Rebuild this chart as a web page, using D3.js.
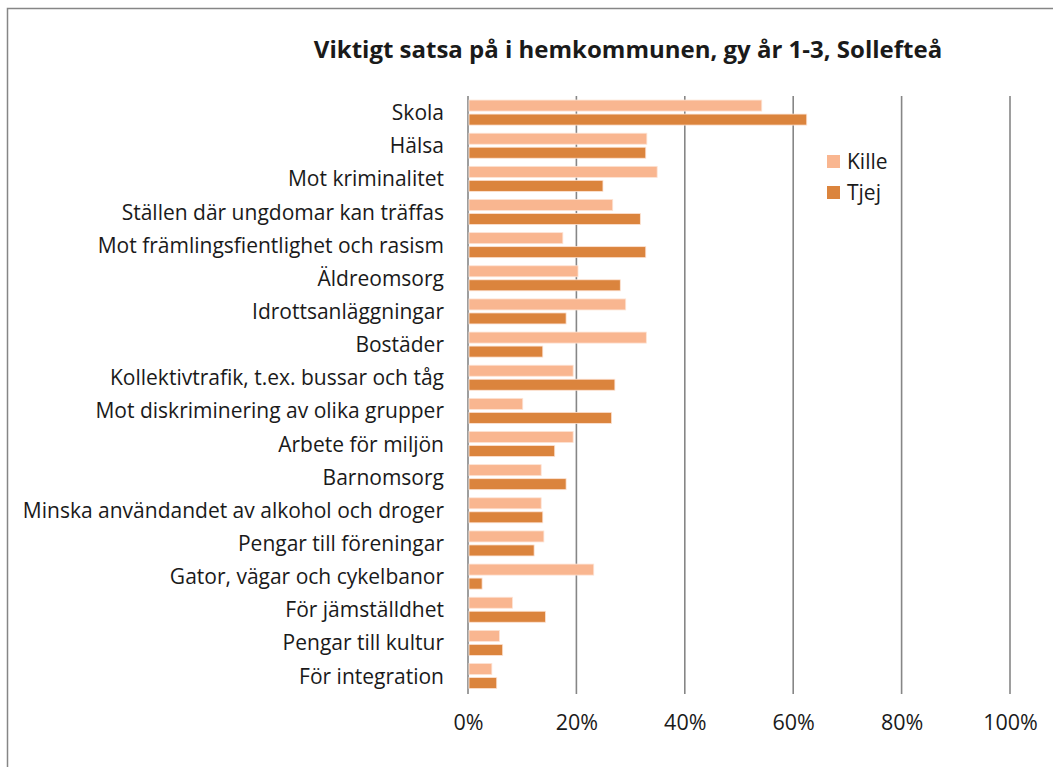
<!DOCTYPE html>
<html>
<head>
<meta charset="utf-8">
<script src="https://cdnjs.cloudflare.com/ajax/libs/d3/7.8.5/d3.min.js"></script>
<style>
  body { margin: 0; background: #fff; }
  svg text { font-family: "Open Sans", Lato, sans-serif; fill: #1a1a1a; }
</style>
</head>
<body>
<div class="chart"></div>
<script>
// categories, top to bottom
var categories = [
  "Skola",
  "Hälsa",
  "Mot kriminalitet",
  "Ställen där ungdomar kan träffas",
  "Mot främlingsfientlighet och rasism",
  "Äldreomsorg",
  "Idrottsanläggningar",
  "Bostäder",
  "Kollektivtrafik, t.ex. bussar och tåg",
  "Mot diskriminering av olika grupper",
  "Arbete för miljön",
  "Barnomsorg",
  "Minska användandet av alkohol och droger",
  "Pengar till föreningar",
  "Gator, vägar och cykelbanor",
  "För jämställdhet",
  "Pengar till kultur",
  "För integration"
];

var seriesNames = ["Kille", "Tjej"];

// share of answers (0-1)
var kille = [0.542, 0.330, 0.349, 0.267, 0.175, 0.203, 0.291, 0.329, 0.194, 0.101, 0.194, 0.135, 0.135, 0.140, 0.232, 0.082, 0.058, 0.044];
var tjej  = [0.625, 0.328, 0.249, 0.318, 0.328, 0.281, 0.181, 0.138, 0.271, 0.265, 0.160, 0.181, 0.138, 0.122, 0.026, 0.143, 0.064, 0.053];

var xTicks = [0, 0.2, 0.4, 0.6, 0.8, 1];

var colors = { "Kille": "#f9b690", "Tjej": "#db843d" };

var svgWidth = 1053;
var svgHeight = 767;

var svg = d3.select(".chart")
  .append("svg")
  .attr("width", svgWidth)
  .attr("height", svgHeight);

// chart area border (runs off the right and bottom edge)
svg.append("rect")
  .attr("x", 7.5)
  .attr("y", 8.5)
  .attr("width", 1100)
  .attr("height", 800)
  .attr("fill", "#fff")
  .attr("stroke", "#868686")
  .attr("stroke-width", 1.5);

// title
svg.append("text")
  .attr("x", 628)
  .attr("y", 58)
  .attr("text-anchor", "middle")
  .attr("font-size", "24px")
  .attr("font-weight", "bold")
  .text("Viktigt satsa på i hemkommunen, gy år 1-3, Sollefteå");

// scales
var xScale = d3.scaleLinear()
  .domain([0, 1])
  .range([468, 1010]);

var yScale = d3.scaleBand()
  .domain(categories)
  .range([96, 692.6]);

var ySub = d3.scaleBand()
  .domain(seriesNames)
  .range([0, yScale.bandwidth()])
  .paddingInner(0.214)
  .paddingOuter(0.29);

// tick labels under the gridlines
var xAxis = d3.axisBottom(xScale)
  .tickValues(xTicks)
  .tickSize(0)
  .tickPadding(21)
  .tickFormat(d3.format(".0%"));

var axisG = svg.append("g")
  .attr("transform", "translate(0, 694)")
  .call(xAxis);

axisG.select(".domain").remove();
axisG.selectAll("text")
  .attr("font-size", "21.5px")
  .attr("font-family", "'Open Sans', sans-serif")
  .attr("fill", "#1a1a1a");

// vertical gridlines
svg.append("g")
  .selectAll("line")
  .data(xTicks)
  .enter()
  .append("line")
  .attr("x1", d => xScale(d))
  .attr("x2", d => xScale(d))
  .attr("y1", 96)
  .attr("y2", 694)
  .attr("stroke", "#868686")
  .attr("stroke-width", 1.6);

// bars
var rows = categories.map(function (c, i) {
  return { cat: c, values: [{ key: "Kille", v: kille[i] }, { key: "Tjej", v: tjej[i] }] };
});

var groups = svg.append("g")
  .selectAll("g")
  .data(rows)
  .enter()
  .append("g")
  .attr("transform", d => `translate(0, ${yScale(d.cat)})`);

groups.selectAll("rect")
  .data(d => d.values)
  .enter()
  .append("rect")
  .attr("x", xScale(0) + 1)
  .attr("y", d => ySub(d.key))
  .attr("width", d => xScale(d.v) - xScale(0) - 1)
  .attr("height", ySub.bandwidth())
  .attr("fill", d => colors[d.key])
  .attr("stroke", "#fde3d4")
  .attr("stroke-width", 0.8);

// category labels
svg.append("g")
  .selectAll("text")
  .data(categories)
  .enter()
  .append("text")
  .attr("x", 444)
  .attr("y", d => yScale(d) + yScale.bandwidth() / 2 + 7.5)
  .attr("text-anchor", "end")
  .attr("font-size", "21px")
  .text(d => d);

// legend
var legend = svg.append("g")
  .selectAll("g")
  .data(seriesNames)
  .enter()
  .append("g")
  .attr("transform", (d, i) => `translate(827, ${155 + i * 31})`);

legend.append("rect")
  .attr("width", 13)
  .attr("height", 13)
  .attr("fill", d => colors[d]);

legend.append("text")
  .attr("x", 20)
  .attr("y", 14)
  .attr("font-size", "21px")
  .text(d => d);
</script>
</body>
</html>
